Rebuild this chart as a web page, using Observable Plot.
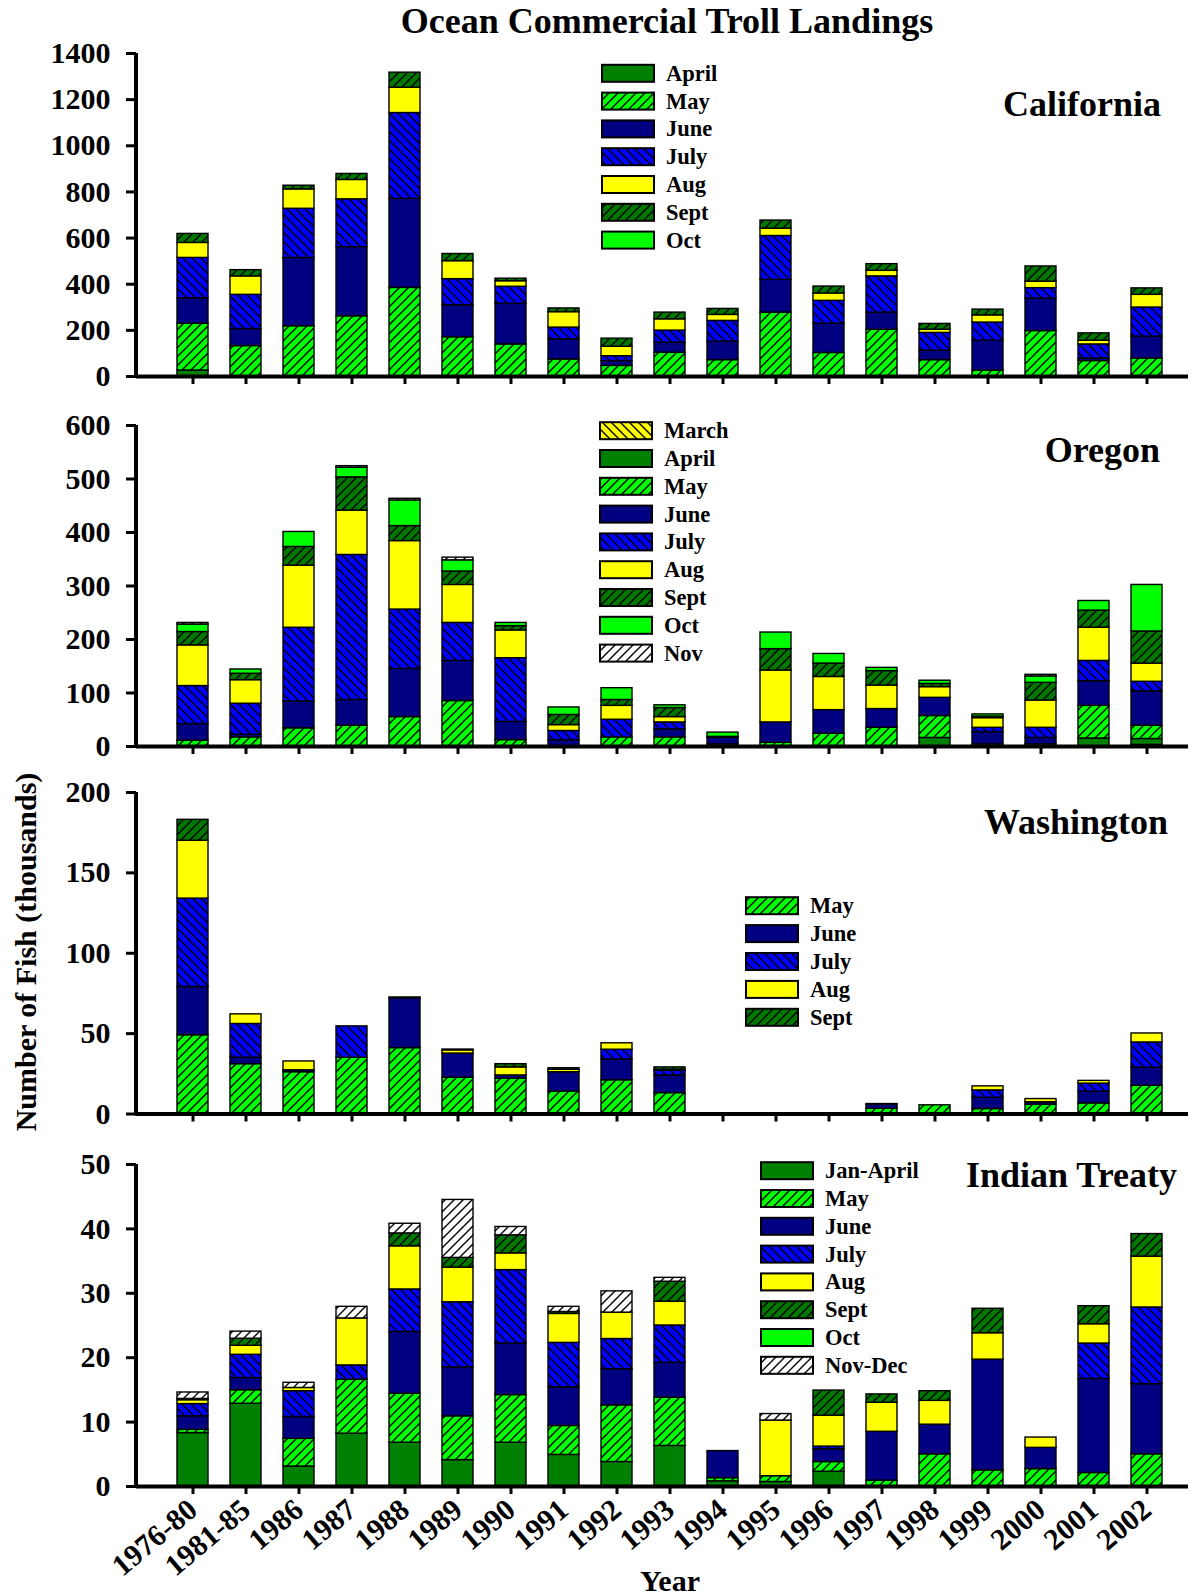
<!DOCTYPE html>
<html>
<head>
<meta charset="utf-8">
<script src="https://cdn.jsdelivr.net/npm/d3@7"></script>
<script src="https://cdn.jsdelivr.net/npm/@observablehq/plot@0.6"></script>
<style>
  body { margin: 0; background: #fff; }
  #page { position: relative; width: 1201px; height: 1596px; overflow: hidden; background: #fff;
          font-family: "Liberation Serif", "Times New Roman", serif; }
  #page svg.panel { position: absolute; left: 0; }
  #overlay { position: absolute; left: 0; top: 0; pointer-events: none; }
</style>
</head>
<body>
<div id="page"></div>
<script>
// ---------------- DATA (thousands of fish) ----------------
const years = ["1976-80","1981-85","1986","1987","1988","1989","1990","1991","1992","1993",
               "1994","1995","1996","1997","1998","1999","2000","2001","2002"];

// California
const caApril = [26,0,0,0,0,0,0,0,0,0,0,0,0,0,0,0,0,0,0];
const caMay   = [203,132,218,261,384,170,139,74,46,103,71,277,102,203,71,26,197,67,78];
const caJune  = [110,74,296,300,386,139,176,87,21,44,80,142,127,74,41,129,141,11,95];
const caJuly  = [175,148,213,207,372,113,74,51,21,52,90,190,99,157,77,79,45,61,126];
const caAug   = [65,80,84,84,110,78,24,67,41,49,26,32,32,24,14,31,28,16,55];
const caSept  = [39,27,16,26,65,31,11,16,35,29,26,35,30,29,25,25,66,32,28];
const caOct   = [0,0,0,0,0,0,0,0,0,0,0,0,0,0,0,0,0,0,0];

// Oregon
const orMarch = [0,0,0,0,0,0,0,0,0,0,0,0,0,0,0,0,0,0,3];
const orApril = [0,0,0,0,0,0,0,0,0,0,0,0,0,0,16,0,0,15,11];
const orMay   = [11,17,34,39,55,85,12,0,17,17,4,7,24,35,41,4,4,61,25];
const orJune  = [31,5,50,48,90,75,34,12,0,15,12,38,44,35,34,23,12,46,64];
const orJuly  = [71,58,138,271,111,71,119,17,33,13,0,0,0,0,0,8,19,38,18];
const orAug   = [76,44,116,83,128,71,52,11,26,10,0,97,62,44,20,18,51,62,34];
const orSept  = [25,12,35,62,28,25,8,19,11,17,2,40,25,27,6,3,33,32,60];
const orOct   = [14,8,28,18,48,21,6,14,22,5,8,31,18,6,6,4,12,18,87];
const orNov   = [3,0,0,3,3,5,0,0,0,0,0,0,0,0,0,0,3,0,0];

// Washington
const waMay   = [49,31,26,35,41,22.6,22,14,21,13,0,0,0,3.3,5.4,3.1,5.8,6.6,17.6];
const waJune  = [30,4,0,0,31,15,2,12,13,11,0,0,0,2.5,0,7,1.5,7.3,11.2];
const waJuly  = [55,21,1.2,19.5,0,0,0,0,6,3,0,0,0,0.4,0,4.6,0,5,15.7];
const waAug   = [36,6,5.5,0,0,2,5,1.5,4,0.5,0,0,0,0,0,2.5,2,1.7,5.6];
const waSept  = [13,0,0,0,0.5,0.5,2,1,0,1.5,0,0,0,0,0,0,0,0,0];

// Indian Treaty
const itJanApr = [8.3,12.85,3.1,8.2,6.8,4.1,6.8,4.9,3.8,6.3,0.8,0.7,2.3,0,0,0,0,0,0];
const itMay    = [0.5,2.1,4.3,8.4,7.6,6.8,7.4,4.5,8.8,7.5,0.5,0.9,1.5,0.9,5.0,2.5,2.7,2.1,5.0];
const itJune   = [2.1,1.9,3.4,0,9.6,7.6,8.0,6.0,5.6,5.4,4.2,0,2.0,7.6,4.6,17.2,3.3,14.6,10.9];
const itJuly   = [1.9,3.6,4.0,2.2,6.6,10.1,11.4,6.9,4.7,5.8,0,0,0.4,0,0,0,0,5.5,11.9];
const itAug    = [0.6,1.4,0.5,7.3,6.7,5.4,2.6,4.5,4.1,3.7,0,8.65,4.8,4.5,3.7,4.1,1.6,3.0,7.9];
const itSept   = [0.2,1.1,0,0,2.0,1.5,2.8,0.3,0,3.1,0,0,3.9,1.3,1.5,3.8,0,2.8,3.5];
const itOct    = [0,0,0,0,0,0,0,0,0,0,0,0,0,0,0,0,0,0,0];
const itNovDec = [1.0,1.1,0.8,1.8,1.5,9.0,1.3,0.8,3.3,0.6,0,1.0,0,0,0,0,0,0,0];

// y-axis tick labels
const caTicks = [0,200,400,600,800,1000,1200,1400];
const orTicks = [0,100,200,300,400,500,600];
const waTicks = [0,50,100,150,200];
const itTicks = [0,10,20,30,40,50];

// ---------------- STYLES ----------------
const FONT = '"Liberation Serif", "Times New Roman", serif';
const fills = {
  march: {bg: "#ffff00", hatch: "back"},
  april: {bg: "#008000"},
  may:   {bg: "#00ff00", hatch: "fwd"},
  june:  {bg: "#000080"},
  july:  {bg: "#0000ff", hatch: "back"},
  aug:   {bg: "#ffff00"},
  sept:  {bg: "#007800", hatch: "fwd"},
  oct:   {bg: "#00ff00"},
  nov:   {bg: "#ffffff", hatch: "fwd"}
};

const page = d3.select("#page");

// ---------------- PANELS ----------------
function panel(series, {top, yMax, ticks, mt = 23, ph, mb = 20, bottom = false}) {
  const data = [];
  series.forEach(([key, label, vals]) => {
    vals.forEach((v, i) => {
      if (v > 0) data.push({year: years[i], month: label, value: v, fill: `url(#pat-${key})`});
    });
  });
  const chart = Plot.plot({
    width: 1201,
    height: mt + ph + mb,
    marginTop: mt,
    marginBottom: mb,
    marginLeft: 136,
    marginRight: 13,
    style: {background: "transparent", fontFamily: FONT, fontWeight: "bold", overflow: "visible"},
    x: {domain: years, paddingInner: 0.4175, paddingOuter: 0.592, align: 0.616, axis: null},
    y: {domain: [0, yMax], axis: null},
    color: {type: "identity"},
    marks: [
      Plot.barY(data, {x: "year", y: "value", fill: "fill", stroke: "#000", strokeWidth: 1.4}),
      Plot.ruleY([0], {stroke: "#000", strokeWidth: 4}),
      Plot.axisY({ticks, tickFormat: (d) => String(d), tickSize: 10, tickPadding: 16, strokeWidth: 3,
                  fontSize: 30, fontWeight: "bold", fontFamily: FONT, label: null, color: "#000"}),
      Plot.axisX({tickSize: 8, strokeWidth: 3, label: null, color: "#000",
                  tickFormat: bottom ? (d) => d : () => "",
                  tickRotate: bottom ? -40 : 0, fontSize: 30, fontWeight: "bold",
                  fontFamily: FONT, tickPadding: 11})
    ]
  });
  // vertical y-axis line, spanning the y scale's range
  const ys = chart.scale("y");
  d3.select(chart).append("line")
    .attr("x1", 136).attr("x2", 136)
    .attr("y1", ys.range[0] + 2).attr("y2", ys.range[1])
    .attr("stroke", "#000").attr("stroke-width", 4);
  chart.classList.add("panel");
  chart.style.top = top + "px";
  page.node().appendChild(chart);
}

const caSeries = [["april","April",caApril],["may","May",caMay],["june","June",caJune],["july","July",caJuly],
                  ["aug","Aug",caAug],["sept","Sept",caSept],["oct","Oct",caOct]];
const orSeries = [["march","March",orMarch],["april","April",orApril],["may","May",orMay],["june","June",orJune],
                  ["july","July",orJuly],["aug","Aug",orAug],["sept","Sept",orSept],["oct","Oct",orOct],["nov","Nov",orNov]];
const waSeries = [["may","May",waMay],["june","June",waJune],["july","July",waJuly],["aug","Aug",waAug],["sept","Sept",waSept]];
const itSeries = [["april","Jan-April",itJanApr],["may","May",itMay],["june","June",itJune],["july","July",itJuly],
                  ["aug","Aug",itAug],["sept","Sept",itSept],["oct","Oct",itOct],["nov","Nov-Dec",itNovDec]];

panel(caSeries, {top: 30,   yMax: 1400, ticks: caTicks, ph: 323});
panel(orSeries, {top: 402,  yMax: 600,  ticks: orTicks, ph: 321});
panel(waSeries, {top: 769,  yMax: 200,  ticks: waTicks, ph: 321.5});
panel(itSeries, {top: 1141, yMax: 50,   ticks: itTicks, ph: 322, mb: 133, bottom: true});

// ---------------- OVERLAY: patterns, titles, legends ----------------
const overlay = page.append("svg").attr("id", "overlay").attr("width", 1201).attr("height", 1596)
  .style("font-family", FONT).style("font-weight", "bold");
const defs = overlay.append("defs");
for (const [k, s] of Object.entries(fills)) {
  const p = defs.append("pattern").attr("id", "pat-" + k).attr("patternUnits", "userSpaceOnUse")
    .attr("width", 9).attr("height", 9);
  p.append("rect").attr("width", 9).attr("height", 9).attr("fill", s.bg);
  if (s.hatch) {
    const d = s.hatch === "fwd" ? "M-1,1 L1,-1 M0,9 L9,0 M8,10 L10,8" : "M-1,8 L1,10 M0,0 L9,9 M8,-1 L10,1";
    p.append("path").attr("d", d).attr("stroke", "#000").attr("stroke-width", 1.4).attr("fill", "none");
  }
}

overlay.append("text").attr("x", 667).attr("y", 33).attr("text-anchor", "middle")
  .attr("font-size", 36).text("Ocean Commercial Troll Landings");

const panelLabels = [["California", 1161, 116], ["Oregon", 1160, 462], ["Washington", 1168, 834], ["Indian Treaty", 1177, 1187]];
panelLabels.forEach(([t, x, y]) => overlay.append("text").attr("x", x).attr("y", y)
  .attr("text-anchor", "end").attr("font-size", 36).text(t));

overlay.append("text").attr("transform", "translate(36,952) rotate(-90)").attr("text-anchor", "middle")
  .attr("font-size", 30).text("Number of Fish (thousands)");
overlay.append("text").attr("x", 670).attr("y", 1591).attr("text-anchor", "middle")
  .attr("font-size", 30).text("Year");

function legend(series, x, y0, dy) {
  series.forEach(([key, label], i) => {
    const cy = y0 + i * dy;
    overlay.append("rect").attr("x", x).attr("y", cy - 8.5).attr("width", 52).attr("height", 17)
      .attr("fill", `url(#pat-${key})`).attr("stroke", "#000").attr("stroke-width", 2);
    overlay.append("text").attr("x", x + 64).attr("y", cy + 7.5).attr("font-size", 22.5).text(label);
  });
}
legend(caSeries, 602, 73.3, 27.8);
legend(orSeries, 600, 430.7, 27.8);
legend(waSeries, 746, 905.7, 27.9);
legend(itSeries, 761, 1170.7, 27.8);
</script>
</body>
</html>
